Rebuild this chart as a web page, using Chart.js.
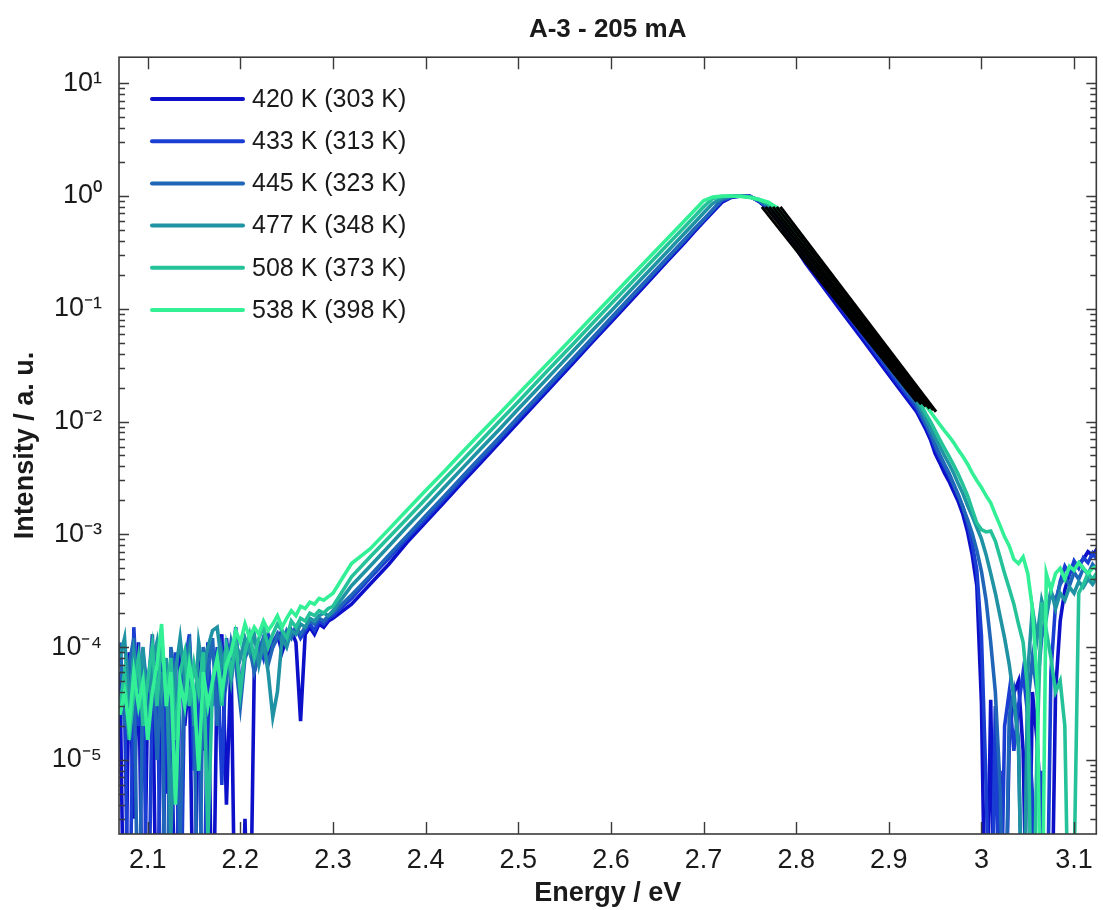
<!DOCTYPE html>
<html>
<head>
<meta charset="utf-8">
<script src="https://cdn.jsdelivr.net/npm/chart.js@4.4.1/dist/chart.umd.min.js"></script>
<style>
  html, body { margin: 0; padding: 0; background: #ffffff; }
  #c { display: block; }
</style>
</head>
<body>
<canvas id="c" width="1103" height="910"></canvas>
<script>
// ---------------- data ----------------
const chartTitle = 'A-3 - 205 mA';
const xTitle = 'Energy / eV';
const yTitle = 'Intensity / a. u.';

const seriesLabels = ['420 K (303 K)', '433 K (313 K)', '445 K (323 K)', '477 K (348 K)', '508 K (373 K)', '538 K (398 K)'];
const seriesColors = ['#0c10c8', '#1a3ed2', '#1f66b8', '#1f92a4', '#25c29a', '#33f096'];

const xTickValues = [2.1, 2.2, 2.3, 2.4, 2.5, 2.6, 2.7, 2.8, 2.9, 3.0, 3.1];
const yTickValues = [1e-5, 1e-4, 1e-3, 1e-2, 1e-1, 1, 10];
const xRange = [2.069, 3.124];
const yRange = [2.2e-6, 17];

// photon energy grid (eV)
const energy = [
  2.070,2.075,2.080,2.085,2.090,2.095,2.100,2.105,2.110,2.115,2.120,2.125,2.130,2.135,2.140,2.145,2.150,2.155,2.160,2.165,2.170,2.175,2.180,2.185,2.190,2.195,2.200,2.205,2.210,2.215,2.220,2.225,2.230,2.235,2.240,2.245,2.250,2.255,2.260,2.265,2.270,2.275,2.280,2.285,2.290,2.295,2.300,
  2.32,2.34,2.36,2.38,2.40,2.42,2.44,2.46,2.48,2.50,2.52,2.54,2.56,2.58,2.60,2.62,2.64,2.66,2.68,
  2.69,2.70,2.71,2.72,2.73,2.74,2.75,2.76,2.77,2.78,2.79,
  2.81,2.83,2.85,2.87,2.89,2.91,2.93,
  2.940,2.945,2.950,2.955,2.960,2.965,2.970,2.975,2.980,2.985,2.990,2.995,3.000,3.005,3.010,3.015,3.020,3.025,3.030,3.035,3.040,3.045,3.050,3.055,3.060,3.065,3.070,3.075,3.080,3.085,3.090,3.095,3.100,3.105,3.110,3.115,3.120,3.125
];

const int420 = [
  6e-5,1e-7,9e-5,3e-6,1.1e-4,1e-7,4e-5,8e-5,1e-7,1.2e-4,5e-6,7e-5,1e-7,1.0e-4,2e-5,6e-5,1e-7,9e-5,1.2e-5,1.1e-4,1e-7,7e-5,1.3e-4,4e-6,8e-5,1e-7,1e-7,3e-6,1e-7,6e-5,9e-5,1.2e-4,8e-5,1.1e-4,1.3e-4,9e-5,1.2e-4,1.4e-4,1.1e-4,2.2e-5,1.3e-4,1.5e-4,1.3e-4,1.6e-4,1.5e-4,1.7e-4,1.8e-4,
  2.4e-4,3.6e-4,5.4e-4,8.5e-4,1.28e-3,1.92e-3,2.9e-3,4.36e-3,6.56e-3,9.86e-3,1.48e-2,2.23e-2,3.36e-2,5.06e-2,7.6e-2,0.114,0.172,0.259,0.389,
  0.48,0.59,0.72,0.88,0.97,1.0,1.0,0.89,0.76,0.61,0.46,
  0.254,0.153,0.092,0.0556,0.0335,0.0202,0.0122,
  8.5e-3,6.9e-3,5.2e-3,4.3e-3,3.5e-3,2.95e-3,2.4e-3,1.95e-3,1.5e-3,1.05e-3,6.6e-4,3.5e-4,3.2e-5,1e-7,3.4e-5,1e-7,8e-6,1e-7,1.5e-5,3.9e-5,5e-5,1.2e-5,1e-7,4e-5,1.5e-5,3e-6,1e-7,1e-7,4e-5,1.7e-4,3.2e-4,4.5e-4,5e-4,5.5e-4,6e-4,7e-4,6.5e-4,7.5e-4
];
const int433 = [
  1.0e-4,3e-5,1e-7,1.5e-4,2e-5,8e-5,1e-7,5e-5,1.1e-4,1e-7,6e-5,1.2e-5,9e-5,1e-7,7e-5,1.3e-4,8e-6,5e-5,1e-7,8e-5,3e-5,1.0e-4,6e-6,1.2e-4,5e-5,1.5e-4,4e-5,9e-5,1.2e-4,7e-5,1.1e-4,8e-5,1.3e-4,1.0e-4,1.2e-4,1.4e-4,1.1e-4,1.3e-4,1.5e-4,1.2e-4,1.4e-4,1.6e-4,1.4e-4,1.7e-4,1.6e-4,1.8e-4,1.9e-4,
  2.7e-4,4.1e-4,6.1e-4,9.2e-4,1.37e-3,2.06e-3,3.1e-3,4.65e-3,6.98e-3,1.05e-2,1.57e-2,2.36e-2,3.54e-2,5.3e-2,7.98e-2,0.12,0.18,0.27,0.405,
  0.50,0.61,0.745,0.91,0.98,1.0,0.99,0.90,0.78,0.64,0.48,
  0.275,0.166,0.10,0.0603,0.0363,0.0219,0.0132,
  9.3e-3,7.6e-3,5.9e-3,4.8e-3,4.0e-3,3.3e-3,2.7e-3,2.2e-3,1.74e-3,1.26e-3,8.3e-4,4.8e-4,1.26e-4,6e-6,1e-7,3e-5,1e-7,2e-5,4e-5,1.2e-5,3e-5,6e-5,2.5e-5,5e-6,1e-7,8e-6,1e-7,6e-5,2.4e-4,3.8e-4,5.2e-4,4.4e-4,5.8e-4,5e-4,6.2e-4,5.6e-4,6.8e-4,6e-4
];
const int445 = [
  1.1e-4,2e-5,7e-5,1.2e-4,1e-7,9e-5,4e-5,1.3e-4,1e-5,6e-5,1e-7,1.0e-4,5e-5,2e-6,8e-5,1.1e-4,3e-5,1e-7,1.0e-4,6e-5,1.2e-4,2e-5,9e-5,5e-5,1.1e-4,7e-5,3e-5,8e-5,1.0e-4,6e-5,9e-5,1.2e-4,7e-5,1.0e-4,1.3e-4,1.1e-4,1.4e-4,1.2e-4,1.5e-4,1.3e-4,1.5e-4,1.7e-4,1.6e-4,1.8e-4,1.7e-4,1.9e-4,2.0e-4,
  2.9e-4,4.3e-4,6.5e-4,9.7e-4,1.46e-3,2.18e-3,3.27e-3,4.89e-3,7.3e-3,1.1e-2,1.64e-2,2.46e-2,3.68e-2,5.5e-2,8.3e-2,0.124,0.185,0.277,0.416,
  0.51,0.62,0.76,0.93,0.99,1.0,0.99,0.91,0.80,0.67,0.51,
  0.295,0.178,0.107,0.0646,0.039,0.0234,0.0141,
  9.5e-3,7.9e-3,6.3e-3,5.1e-3,4.2e-3,3.5e-3,2.8e-3,2.24e-3,1.74e-3,1.35e-3,1.02e-3,7.2e-4,4.7e-4,2.6e-4,1.1e-4,4e-5,6e-6,1e-7,2.5e-5,4e-5,1.5e-5,1e-7,3e-5,8e-5,4e-5,1.2e-4,2e-4,3e-4,2.6e-4,3.6e-4,4.2e-4,3.5e-4,4.6e-4,4e-4,5e-4,4.4e-4,5.4e-4,4.8e-4
];
const int477 = [
  8e-5,1.2e-4,3e-5,9e-5,5e-5,1.0e-4,1.5e-5,7e-5,1.1e-4,4e-5,8e-5,2e-6,6e-5,1.2e-4,5e-5,9e-5,2e-5,1.1e-4,6e-5,1.0e-4,1.4e-4,1.5e-4,7e-5,1.0e-4,5e-5,1.1e-4,8e-5,1.2e-4,9e-5,1.3e-4,7e-5,1.1e-4,6e-5,2.4e-5,4e-5,1.2e-4,1.0e-4,1.4e-4,1.3e-4,1.6e-4,1.5e-4,1.8e-4,1.7e-4,1.9e-4,2.0e-4,1.9e-4,2.1e-4,
  3.5e-4,5.2e-4,7.8e-4,1.17e-3,1.74e-3,2.6e-3,3.88e-3,5.8e-3,8.6e-3,1.29e-2,1.92e-2,2.87e-2,4.28e-2,6.4e-2,9.5e-2,0.142,0.212,0.316,0.472,
  0.577,0.705,0.86,0.96,1.0,1.0,0.98,0.92,0.83,0.70,0.54,
  0.319,0.192,0.116,0.0698,0.0421,0.0254,0.0153,
  1.05e-2,8.7e-3,7.2e-3,6.0e-3,5.0e-3,4.2e-3,3.5e-3,2.8e-3,2.3e-3,1.8e-3,1.45e-3,1.15e-3,9.1e-4,6.6e-4,4.5e-4,3.0e-4,1.9e-4,1.2e-4,7e-5,3.5e-5,1.3e-5,1e-7,6e-5,2.2e-4,1.2e-4,2.6e-4,1.8e-4,3.2e-4,2.2e-4,3.0e-4,2.6e-4,3.4e-4,3.0e-4,3.8e-4,3.4e-4,4.0e-4,3.6e-4,4.2e-4
];
const int508 = [
  3e-5,6e-5,1.5e-5,4e-5,8e-5,2e-5,5e-5,1.0e-4,3e-5,1.2e-4,4e-5,8e-5,1.5e-5,6e-5,9e-5,3e-5,7e-5,4e-5,9e-5,2e-6,5e-5,8e-5,3e-5,1.0e-4,6e-5,1.1e-4,4e-5,9e-5,1.3e-4,8e-5,1.2e-4,1.5e-4,1.0e-4,1.3e-4,1.6e-4,1.4e-4,1.2e-4,1.7e-4,1.5e-4,1.8e-4,1.7e-4,2.0e-4,1.9e-4,2.1e-4,2.0e-4,2.2e-4,2.3e-4,
  4.2e-4,6.3e-4,9.3e-4,1.38e-3,2.06e-3,3.07e-3,4.56e-3,6.8e-3,1.01e-2,1.5e-2,2.24e-2,3.33e-2,4.95e-2,7.4e-2,0.11,0.163,0.243,0.361,0.537,
  0.655,0.80,0.95,0.99,1.0,1.0,0.98,0.93,0.86,0.74,0.57,
  0.344,0.207,0.125,0.0753,0.0454,0.0274,0.0165,
  1.17e-2,1.0e-2,8.3e-3,6.9e-3,5.8e-3,4.9e-3,4.1e-3,3.4e-3,2.75e-3,2.2e-3,1.66e-3,1.26e-3,1.1e-3,1.05e-3,1.07e-3,8.7e-4,6.3e-4,4.5e-4,3.3e-4,2.4e-4,1.6e-4,1.1e-4,4e-5,1e-7,1.3e-5,2.5e-4,1.4e-4,8e-5,4e-5,5e-5,2e-5,1e-7,1e-6,3e-4,3.6e-4,4.5e-4,4e-4,4.6e-4
];
const int538 = [
  2.5e-5,4e-5,2e-5,6e-5,3e-5,5e-5,1.5e-5,4e-5,7e-5,1.6e-4,3e-5,6e-5,4e-6,5e-5,3e-5,7e-5,4e-5,8e-6,6e-5,3e-5,5e-5,8e-5,4e-5,7e-5,9e-5,1.4e-4,1.1e-4,1.6e-4,1.2e-4,1.5e-4,1.3e-4,1.7e-4,1.4e-4,1.6e-4,1.9e-4,1.5e-4,1.8e-4,2.1e-4,1.9e-4,2.3e-4,2.2e-4,2.5e-4,2.4e-4,2.7e-4,2.6e-4,2.8e-4,3.0e-4,
  5.5e-4,7.4e-4,1.1e-3,1.64e-3,2.44e-3,3.6e-3,5.4e-3,8.0e-3,1.18e-2,1.75e-2,2.6e-2,3.85e-2,5.7e-2,8.5e-2,0.126,0.187,0.277,0.411,0.61,
  0.743,0.905,0.98,1.0,1.0,0.99,0.97,0.93,0.88,0.78,0.61,
  0.372,0.224,0.135,0.0813,0.049,0.0295,0.0178,
  1.38e-2,1.22e-2,1.07e-2,9.4e-3,8.3e-3,7.4e-3,6.5e-3,5.6e-3,4.9e-3,4.2e-3,3.5e-3,3.0e-3,2.6e-3,2.2e-3,1.9e-3,1.5e-3,1.2e-3,9.5e-4,7.9e-4,6e-4,5.5e-4,6.3e-4,4.5e-4,2.2e-4,5e-5,1e-7,4.5e-4,3.2e-4,4.5e-4,5e-4,4e-4,5.2e-4,4.8e-4,5.6e-4,5e-4,4.5e-4,5e-4,5.2e-4
];
const seriesIntensity = [int420, int433, int445, int477, int508, int538];

// exponential fits on the high-energy flank (black lines)
const fitStartE = [2.763, 2.767, 2.771, 2.775, 2.779, 2.783];
const fitEndE   = [2.930, 2.935, 2.940, 2.944, 2.948, 2.951];
const fitStartI = [0.80, 0.80, 0.80, 0.80, 0.80, 0.80];
const fitEndI   = [0.0150, 0.0142, 0.0136, 0.0130, 0.0126, 0.0122];

// ---------------- chart ----------------
const FONT = "'Liberation Sans', Arial, Helvetica, sans-serif";
const TXT = '#1a1a1a';
const AX = '#3a3a3a';
const SUP = {'-':'\u207B','0':'\u2070','1':'\u00B9','2':'\u00B2','3':'\u00B3','4':'\u2074','5':'\u2075','6':'\u2076','7':'\u2077','8':'\u2078','9':'\u2079'};
function powLabel(v) {
  const e = Math.round(Math.log10(v));
  return '10' + String(e).split('').map(c => SUP[c]).join('');
}

const datasets = [];
seriesIntensity.forEach((arr, i) => {
  datasets.push({
    label: seriesLabels[i],
    data: energy.map((x, k) => ({x: x, y: arr[k]})),
    borderColor: seriesColors[i],
    backgroundColor: seriesColors[i],
    borderWidth: 3.6,
    pointRadius: 0,
    tension: 0,
    fill: false,
    clip: 0,
    order: seriesIntensity.length - i,
    isSeries: true
  });
});
fitStartE.forEach((x0, i) => {
  datasets.push({
    label: 'fit ' + (i + 1),
    data: [{x: x0, y: fitStartI[i]}, {x: fitEndE[i], y: fitEndI[i]}],
    borderColor: '#000000',
    borderWidth: 3,
    pointRadius: 0,
    fill: false,
    clip: 0,
    order: 0,
    isSeries: false
  });
});

const framePlugin = {
  id: 'frame',
  afterDatasetsDraw(chart) {
    const {ctx, chartArea: a, scales} = chart;
    const xs = scales.x, ys = scales.y;
    ctx.save();
    ctx.strokeStyle = AX;
    ctx.lineWidth = 1.6;
    ctx.strokeRect(a.left, a.top, a.right - a.left, a.bottom - a.top);
    ctx.lineWidth = 1.4;
    ctx.beginPath();
    xTickValues.forEach(v => {
      const px = Math.round(xs.getPixelForValue(v)) + 0.5;
      ctx.moveTo(px, a.bottom); ctx.lineTo(px, a.bottom - 12);
      ctx.moveTo(px, a.top); ctx.lineTo(px, a.top + 12);
    });
    for (let n = -6; n <= 1; n++) {
      for (let m = 1; m <= 9; m++) {
        const v = m * Math.pow(10, n);
        if (v < yRange[0] || v > yRange[1]) continue;
        const py = Math.round(ys.getPixelForValue(v)) + 0.5;
        const len = m === 1 ? 10 : 6;
        ctx.moveTo(a.left, py); ctx.lineTo(a.left + len, py);
        ctx.moveTo(a.right, py); ctx.lineTo(a.right - len, py);
      }
    }
    ctx.stroke();

    // legend inside the plot
    const lx0 = 152, lx1 = 243, ly0 = 99, dy = 42.2;
    ctx.font = '25px ' + FONT;
    ctx.textBaseline = 'middle';
    ctx.textAlign = 'left';
    chart.data.datasets.filter(d => d.isSeries).forEach((d, i) => {
      const y = ly0 + i * dy;
      ctx.strokeStyle = d.borderColor;
      ctx.lineWidth = 4;
      ctx.lineCap = 'round';
      ctx.beginPath(); ctx.moveTo(lx0, y); ctx.lineTo(lx1, y); ctx.stroke();
      ctx.fillStyle = TXT;
      ctx.fillText(d.label, lx1 + 9, y + 1);
    });
    ctx.restore();
  }
};

new Chart(document.getElementById('c'), {
  type: 'line',
  data: {datasets: datasets},
  options: {
    responsive: false,
    animation: false,
    events: [],
    layout: {padding: {left: 0, right: 3, top: 0, bottom: 0}},
    plugins: {
      legend: {display: false},
      tooltip: {enabled: false},
      title: {
        display: true, text: chartTitle, fullSize: false, color: TXT,
        font: {family: FONT, size: 26, weight: 'bold'},
        padding: {top: 14, bottom: 12}
      }
    },
    scales: {
      x: {
        type: 'linear', min: xRange[0], max: xRange[1],
        grid: {display: false, drawTicks: false},
        border: {display: false},
        afterBuildTicks: s => { s.ticks = xTickValues.map(v => ({value: v})); },
        afterFit: s => { s.height = 76; },
        ticks: {
          color: TXT, font: {family: FONT, size: 27}, padding: 10,
          maxRotation: 0, autoSkip: false,
          callback: v => String(Number(Number(v).toFixed(1)))
        },
        title: {display: true, text: xTitle, color: TXT, font: {family: FONT, size: 27, weight: 'bold'}, padding: {top: 0, bottom: 0}}
      },
      y: {
        type: 'logarithmic', min: yRange[0], max: yRange[1],
        grid: {display: false, drawTicks: false},
        border: {display: false},
        afterBuildTicks: s => { s.ticks = yTickValues.map(v => ({value: v})); },
        afterFit: s => { s.width = 119; },
        ticks: {
          color: TXT, font: {family: FONT, size: 27}, padding: 17, autoSkip: false,
          callback: v => powLabel(v)
        },
        title: {display: true, text: yTitle, color: TXT, font: {family: FONT, size: 27, weight: 'bold'}, padding: {top: 9, bottom: 0}}
      }
    }
  },
  plugins: [framePlugin]
});
</script>
</body>
</html>
